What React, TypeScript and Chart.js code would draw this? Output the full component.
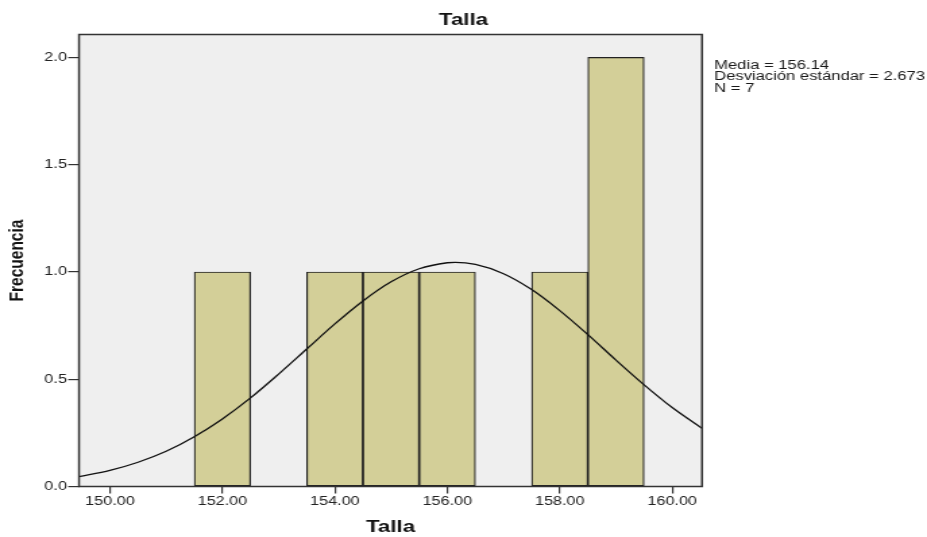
import React, { useEffect, useRef } from "react";
import { Chart, registerables } from "chart.js";

Chart.register(...registerables);

// ---- data ----
const BIN_CENTERS = [152, 154, 155, 156, 158, 159];
const FREQUENCIES = [1, 1, 1, 1, 1, 2];

const CURVE_X = [
  149.45, 150, 150.5, 151, 151.5, 152, 152.5, 153, 153.5, 154, 154.5, 155, 155.5,
  156, 156.14, 156.5, 157, 157.5, 158, 158.5, 159, 159.5, 160, 160.53,
];
const CURVE_Y = [
  0.046, 0.075, 0.113, 0.164, 0.232, 0.315, 0.413, 0.524, 0.641, 0.758, 0.865, 0.954, 1.015,
  1.043, 1.045, 1.035, 0.992, 0.918, 0.82, 0.708, 0.589, 0.474, 0.368, 0.271,
];

const X_TICKS = [150, 152, 154, 156, 158, 160];
const Y_TICKS = [0, 0.5, 1, 1.5, 2];
const X_MIN = 149.45;
const X_MAX = 160.53;
const Y_MAX = 2.107;

const TITLE = "Talla";
const X_TITLE = "Talla";
const Y_TITLE = "Frecuencia";
const STATS = ["Media = 156.14", "Desviación estándar = 2.673", "N = 7"];

// ---- layout (canvas drawn narrower, then stretched like the reference) ----
const DISPLAY_W = 927;
const DISPLAY_H = 537;
const STRETCH = 1.3493;
const CANVAS_W = Math.round(DISPLAY_W / STRETCH);
const FONT = "'Liberation Sans', Arial, sans-serif";

const decor = {
  id: "decor",
  beforeDraw(chart: any) {
    const { ctx, chartArea: a } = chart;
    ctx.save();
    ctx.fillStyle = "#ffffff";
    ctx.fillRect(0, 0, chart.width, chart.height);
    ctx.fillStyle = "#efefef";
    ctx.fillRect(a.left, a.top, a.right - a.left, a.bottom - a.top);
    ctx.restore();
  },
  afterDraw(chart: any) {
    const { ctx, chartArea: a } = chart;
    ctx.save();
    ctx.strokeStyle = "#333333";
    ctx.lineWidth = 1.5;
    ctx.strokeRect(a.left, a.top, a.right - a.left, a.bottom - a.top);

    ctx.fillStyle = "#111111";
    ctx.font = `bold 16.5px ${FONT}`;
    ctx.textAlign = "center";
    ctx.textBaseline = "alphabetic";
    ctx.fillText(TITLE, chart.width / 2, 25);

    ctx.font = `12.3px ${FONT}`;
    ctx.textAlign = "left";
    ctx.fillStyle = "#1a1a1a";
    const x0 = a.right + 9;
    STATS.forEach((s, i) => ctx.fillText(s, x0, 68.5 + i * 11.7));
    ctx.restore();
  },
};

export default function App() {
  const ref = useRef<HTMLCanvasElement | null>(null);

  useEffect(() => {
    const canvas = ref.current;
    if (!canvas) return;
    const chart = new Chart(canvas, {
      type: "bar",
      data: {
        datasets: [
          {
            type: "line",
            data: CURVE_X.map((x, i) => ({ x, y: CURVE_Y[i] })),
            borderColor: "#111111",
            borderWidth: 1.3,
            pointRadius: 0,
            fill: false,
            cubicInterpolationMode: "monotone",
            order: 0,
          } as any,
          {
            type: "bar",
            data: BIN_CENTERS.map((x, i) => ({ x, y: FREQUENCIES[i] })),
            backgroundColor: "#d3cf98",
            borderColor: "#222222",
            borderWidth: 1.2,
            borderSkipped: false,
            barPercentage: 1,
            categoryPercentage: 1,
            order: 1,
          } as any,
        ],
      },
      options: {
        responsive: false,
        animation: false,
        devicePixelRatio: 1,
        events: [],
        layout: {
          padding: { top: 34.5, right: CANVAS_W - 702 / STRETCH, left: 0, bottom: 0 },
        },
        plugins: {
          legend: { display: false },
          tooltip: { enabled: false },
          title: { display: false },
        },
        scales: {
          x: {
            type: "linear",
            min: X_MIN,
            max: X_MAX,
            bounds: "data",
            offset: false,
            afterBuildTicks: (s: any) => {
              s.ticks = X_TICKS.map((v) => ({ value: v }));
            },
            afterFit: (s: any) => {
              s.height = 50.5;
            },
            ticks: {
              callback: (v: any) => Number(v).toFixed(2),
              font: { family: FONT, size: 12 },
              color: "#222222",
              padding: 1,
              maxRotation: 0,
              autoSkip: false,
            },
            grid: {
              drawOnChartArea: false,
              drawTicks: true,
              tickLength: 7,
              color: "#333333",
              lineWidth: 1.2,
              offset: false,
            },
            border: { display: false },
            title: {
              display: true,
              text: X_TITLE,
              font: { family: FONT, size: 16.5, weight: "bold" },
              color: "#111111",
              padding: { top: 0, bottom: 0 },
            },
          },
          y: {
            type: "linear",
            min: 0,
            max: Y_MAX,
            bounds: "data",
            afterBuildTicks: (s: any) => {
              s.ticks = Y_TICKS.map((v) => ({ value: v }));
            },
            afterFit: (s: any) => {
              s.width = 79 / STRETCH;
            },
            ticks: {
              callback: (v: any) => Number(v).toFixed(1),
              font: { family: FONT, size: 12 },
              color: "#222222",
              padding: 1,
              autoSkip: false,
            },
            grid: {
              drawOnChartArea: false,
              drawTicks: true,
              tickLength: 8,
              color: "#333333",
              lineWidth: 1.2,
            },
            border: { display: false },
            title: {
              display: true,
              text: Y_TITLE,
              font: { family: FONT, size: 15.5, weight: "bold" },
              color: "#111111",
              padding: { top: 3.5, bottom: 0 },
            },
          },
        },
      } as any,
      plugins: [decor],
    });
    return () => chart.destroy();
  }, []);

  return (
    <div style={{ position: "absolute", left: 0, top: 0, width: DISPLAY_W, height: DISPLAY_H, background: "#fff" }}>
      <canvas
        ref={ref}
        width={CANVAS_W}
        height={DISPLAY_H}
        style={{ width: DISPLAY_W + "px", height: DISPLAY_H + "px", display: "block" }}
      />
    </div>
  );
}
